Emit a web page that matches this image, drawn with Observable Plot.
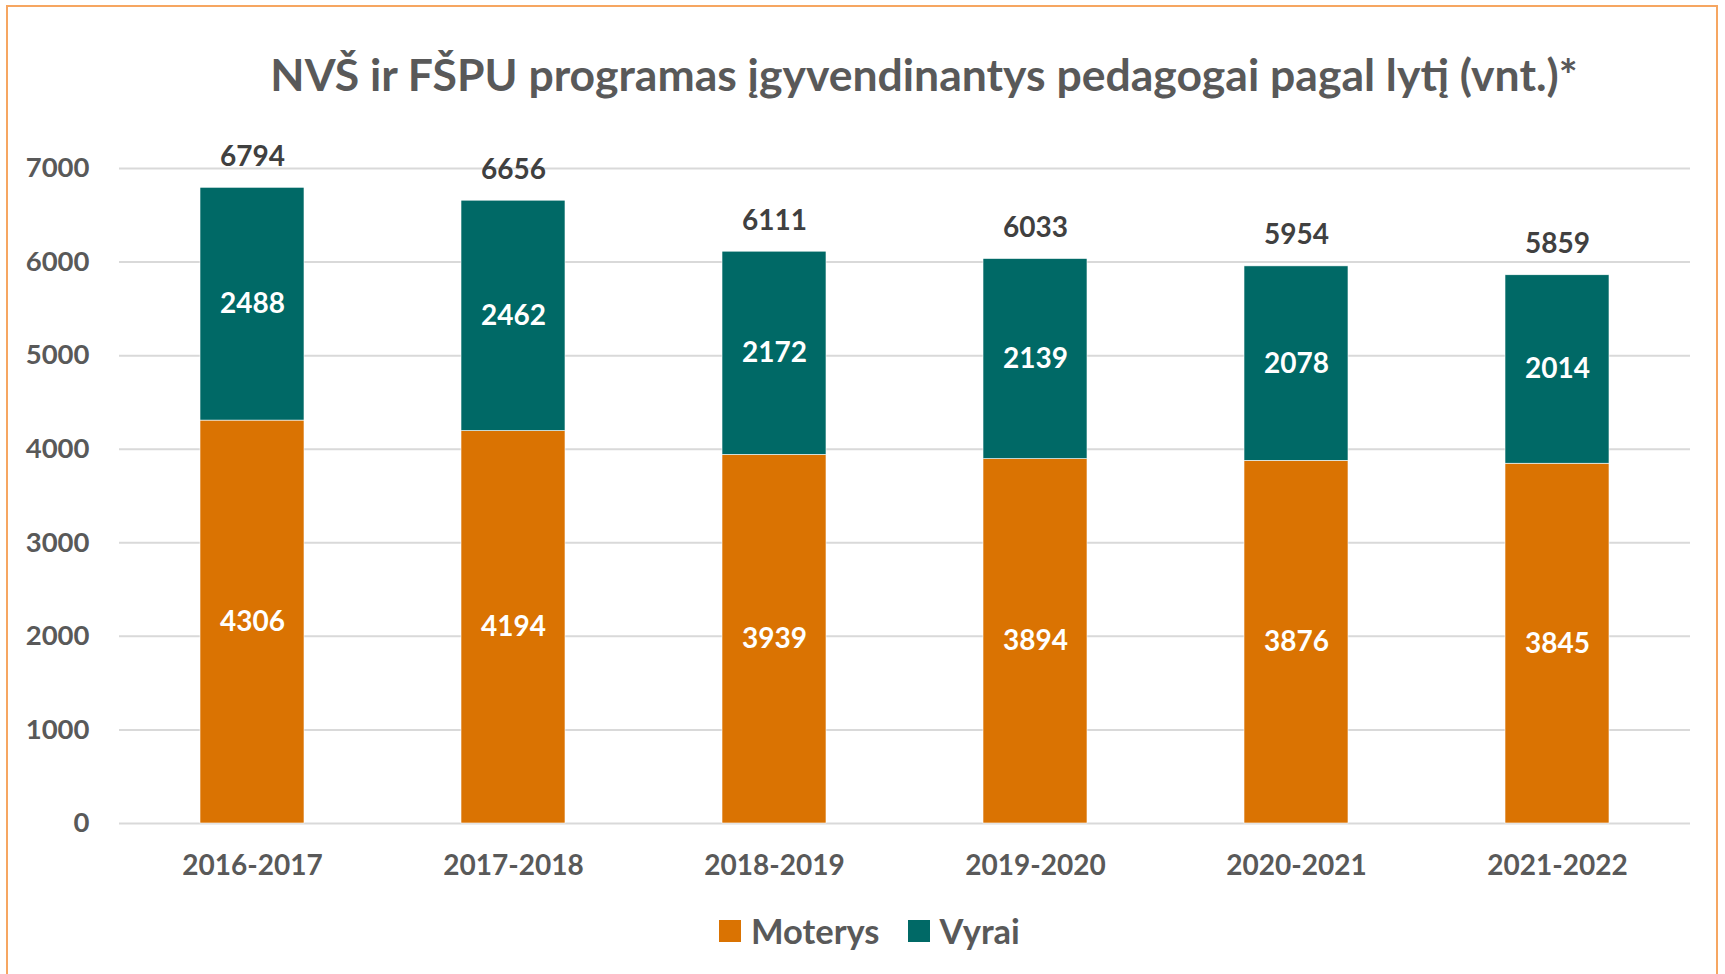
<!DOCTYPE html>
<html>
<head>
<meta charset="utf-8">
<script src="https://cdn.jsdelivr.net/npm/d3@7"></script>
<script src="https://cdn.jsdelivr.net/npm/@observablehq/plot@0.6"></script>
<style>
  html, body { margin: 0; padding: 0; background: #fff; }
  #wrap { position: relative; width: 1725px; height: 974px; overflow: hidden; font-family: Lato, "Open Sans", sans-serif; }
  #frame { position: absolute; left: 6px; top: 5px; width: 1712px; height: 1000px; border: 2.5px solid #f6a661; box-sizing: border-box; }
  #title { position: absolute; left: 0; top: 47px; width: 1848px; text-align: center; font-weight: 700; font-size: 44.5px; color: #595959; line-height: 54px; white-space: nowrap; }
  #chart { position: absolute; left: 0; top: 130px; }
  #legend { position: absolute; left: 719px; top: 910px; display: flex; align-items: center; font-weight: 700; font-size: 34.5px; color: #595959; }
  .sw { width: 22px; height: 22px; display: inline-block; margin-right: 10px; }
  .item { display: flex; align-items: center; margin-right: 28px; }
</style>
</head>
<body>
<div id="wrap">
  <div id="frame"></div>
  <div id="title">NVŠ ir FŠPU programas įgyvendinantys pedagogai pagal lytį (vnt.)*</div>
  <div id="chart"></div>
  <div id="legend"></div>
</div>
<script>
const years = ["2016-2017", "2017-2018", "2018-2019", "2019-2020", "2020-2021", "2021-2022"];
const moterys = [4306, 4194, 3939, 3894, 3876, 3845];
const vyrai = [2488, 2462, 2172, 2139, 2078, 2014];
const totals = [6794, 6656, 6111, 6033, 5954, 5859];
const series = ["Moterys", "Vyrai"];
const colors = ["#da7302", "#006966"];
const yTicks = [0, 1000, 2000, 3000, 4000, 5000, 6000, 7000];

const data = [];
years.forEach((y, i) => {
  data.push({year: y, sex: series[0], value: moterys[i]});
  data.push({year: y, sex: series[1], value: vyrai[i]});
});
const totalData = years.map((y, i) => ({year: y, total: totals[i]}));

const chart = Plot.plot({
  width: 1725,
  height: 770,
  marginLeft: 119,
  marginRight: 35,
  marginTop: 38,
  marginBottom: 77,
  style: {fontFamily: "Lato, 'Open Sans', sans-serif", background: "transparent"},
  x: {domain: years, paddingInner: 0.6, paddingOuter: 0.3, label: null},
  y: {domain: [0, 7000], label: null},
  color: {domain: series, range: colors},
  marks: [
    Plot.gridY(yTicks, {stroke: "#d9d9d9", strokeOpacity: 1, strokeWidth: 2}),
    Plot.barY(data, {x: "year", y: "value", fill: "sex", order: series, stroke: "#ffffff", strokeWidth: 0.6}),
    Plot.text(data, Plot.stackY({x: "year", y: "value", z: "sex", order: series, text: d => String(d.value), fill: "#ffffff", fontSize: 28, fontWeight: 700})),
    Plot.text(totalData, {x: "year", y: "total", text: d => String(d.total), dy: -31, fill: "#404040", fontSize: 28, fontWeight: 700}),
    Plot.axisY(yTicks, {tickSize: 0, tickPadding: 30, fontSize: 27.5, fontWeight: 700, fill: "#595959", tickFormat: d => String(d)}),
    Plot.axisX({tickSize: 0, tickPadding: 32, fontSize: 28, fontWeight: 700, fill: "#595959"})
  ]
});
document.getElementById("chart").appendChild(chart);

const legend = document.getElementById("legend");
series.forEach((s, i) => {
  const item = document.createElement("div");
  item.className = "item";
  const sw = document.createElement("span");
  sw.className = "sw";
  sw.style.background = colors[i];
  const lab = document.createElement("span");
  lab.textContent = s;
  item.appendChild(sw);
  item.appendChild(lab);
  legend.appendChild(item);
});
</script>
</body>
</html>
